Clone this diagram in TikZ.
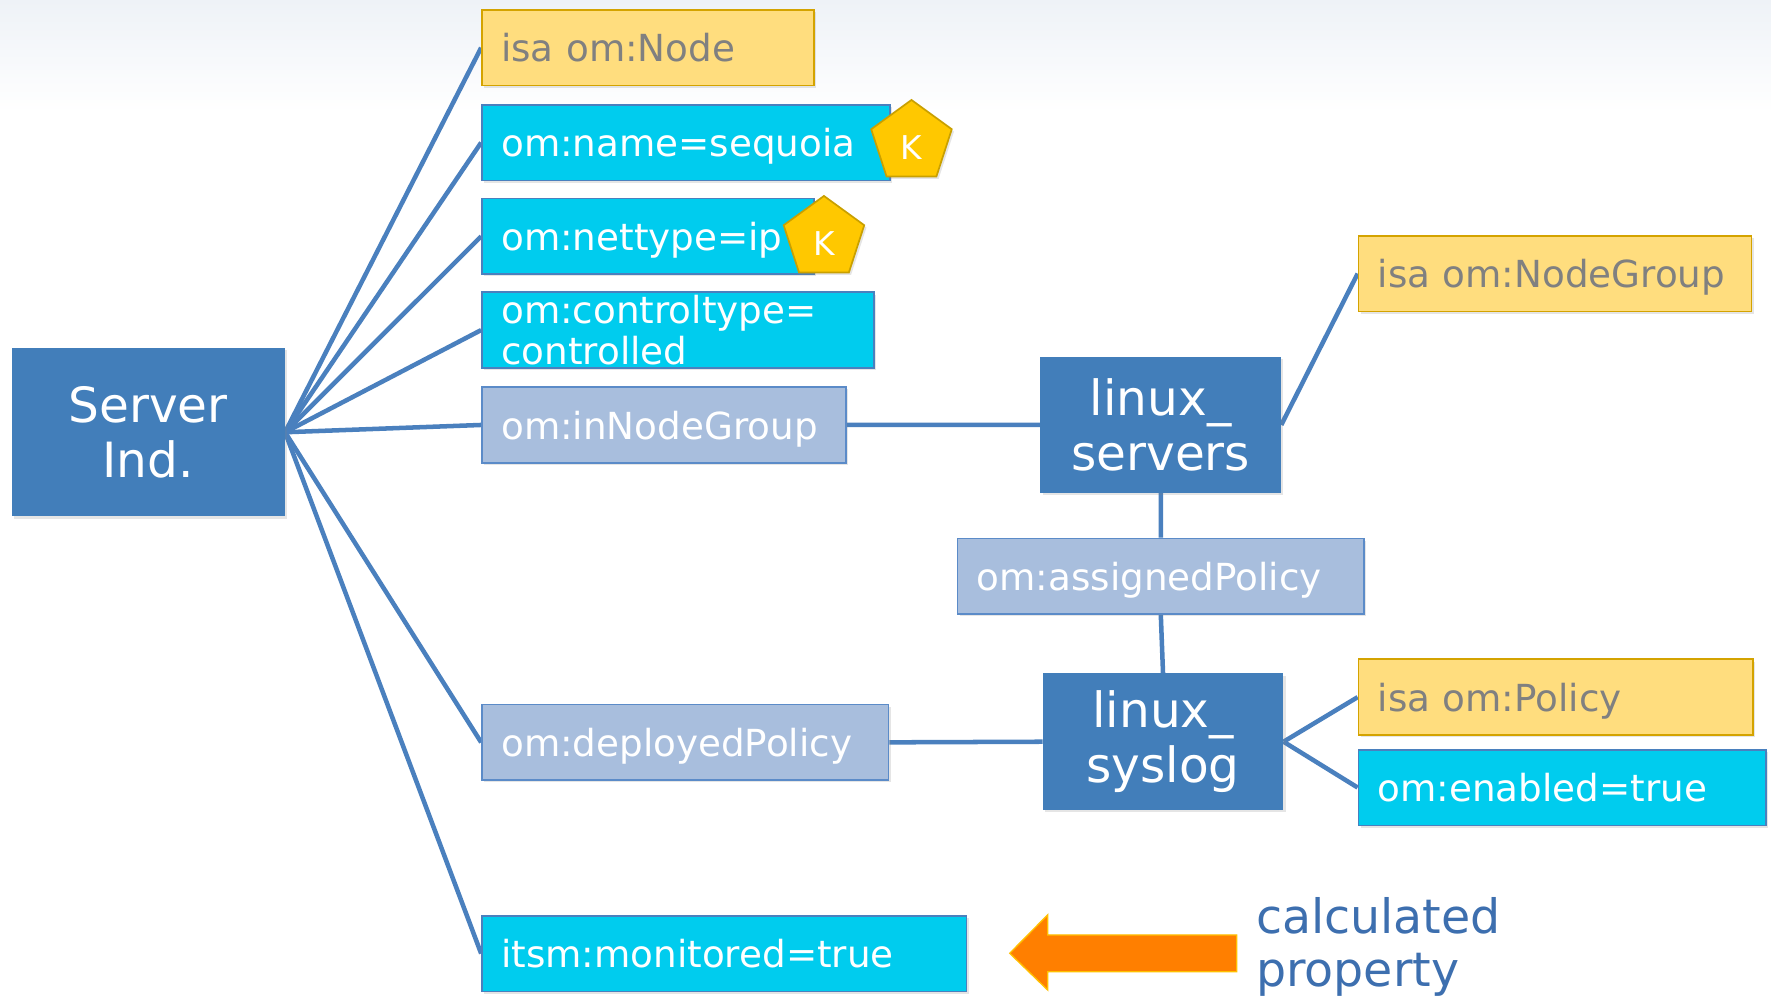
\documentclass[tikz,border=0pt]{standalone}
\usepackage{fontspec}
\setmainfont{DejaVu Sans}
\usetikzlibrary{shapes.geometric,shadows}
\definecolor{srvblue}{HTML}{427EBA}
\definecolor{linkblue}{HTML}{4A80BE}
\definecolor{propcyan}{HTML}{00CCEE}
\definecolor{relgray}{HTML}{A8BEDD}
\definecolor{relborder}{HTML}{5B8BC8}
\definecolor{isafill}{HTML}{FFDD7E}
\definecolor{isaborder}{HTML}{D4A300}
\definecolor{keyfill}{HTML}{FFC800}
\definecolor{keyborder}{HTML}{C9A000}
\definecolor{arrowfill}{HTML}{FF7F00}
\definecolor{arrowborder}{HTML}{FFC000}
\definecolor{calcblue}{HTML}{3D6FAF}
\definecolor{topsky}{HTML}{EEF2F7}
\pgfdeclarelayer{bg}
\pgfdeclarelayer{edges}
\pgfsetlayers{bg,edges,main}

\begin{document}
\begin{tikzpicture}[x=1pt, y=-1pt,
    box/.style = {anchor=north west, inner xsep=17pt, inner ysep=0pt, minimum height=67pt,
                  align=left, font=\fontsize{33}{36}\selectfont, line width=1.5pt,
                  text height=25pt, text depth=0pt,
                  drop shadow={opacity=0.2, shadow xshift=2pt, shadow yshift=-2pt}},
    isa/.style = {box, draw=isaborder, fill=isafill, text=black!50},
    prop/.style = {box, draw=linkblue, fill=propcyan, text=white},
    rel/.style = {box, draw=relborder, fill=relgray, text=white},
    ind/.style = {anchor=north west, fill=srvblue, text=white, align=center, inner sep=0pt,
                  font=\fontsize{43}{49}\selectfont,
                  drop shadow={opacity=0.2, shadow xshift=2pt, shadow yshift=-2pt}},
    key/.style = {regular polygon, regular polygon sides=5, minimum size=75pt, inner sep=0pt,
                  draw=keyborder, fill=keyfill, line width=1.5pt, text=white,
                  text height=30pt, text depth=0pt, font=\fontsize{29}{29}\selectfont,
                  drop shadow={opacity=0.2, shadow xshift=2pt, shadow yshift=-2pt}},
    link/.style = {linkblue, line width=4pt}]
    \useasboundingbox (0,0) rectangle (1568,885.4);
    \begin{pgfonlayer}{bg}
        \fill[white] (0,0) rectangle (1568,885.4);
        \shade[top color=topsky, bottom color=white] (0,0) rectangle (1568,100);
    \end{pgfonlayer}
    % server individual and its properties
    \node[ind, minimum width=242pt, minimum height=149pt] (srv) at (10,308) {Server\\Ind.};
    \node[isa, text width=260pt] (isanode) at (426,8) {isa om:Node};
    \node[prop, text width=327pt] (name) at (426,92) {om:name=sequoia};
    \node[prop, text width=260pt] (nettype) at (426,175) {om:nettype=ip};
    \node[prop, text width=313pt, text depth=36pt] (ctrl) at (426,258) {om:controltype=\\controlled};
    \node[rel, text width=288pt] (ingroup) at (426,342) {om:inNodeGroup};
    \node[rel, text width=326pt] (deployed) at (426,623) {om:deployedPolicy};
    \node[prop, text width=395pt] (monitored) at (426,810) {itsm:monitored=true};
    \node[key] (k1) at (807,126) {K};
    \node[key] (k2) at (729.5,211) {K};
    % node group and policy
    \node[ind, minimum width=213pt, minimum height=120pt] (lsrv) at (921,316) {linux\_\\servers};
    \node[isa, text width=314pt] (isagroup) at (1202,208) {isa om:NodeGroup};
    \node[rel, text width=326pt] (assigned) at (847,476) {om:assignedPolicy};
    \node[ind, minimum width=213pt, minimum height=121pt] (lsys) at (923,596) {linux\_\\syslog};
    \node[isa, text width=315pt] (isapolicy) at (1202,583) {isa om:Policy};
    \node[prop, text width=327pt] (enabled) at (1202,663) {om:enabled=true};
    \begin{pgfonlayer}{edges}
        \foreach \p in {isanode, name, nettype, ctrl, ingroup, deployed, monitored}
            \draw[link] (srv.east) -- (\p.west);
        \draw[link] (ingroup.east) -- (lsrv.west);
        \draw[link] (lsrv.east) -- (isagroup.west);
        \draw[link] (lsrv.south) -- (assigned.north);
        \draw[link] (assigned.south) -- (lsys.north);
        \draw[link] (deployed.east) -- (lsys.west);
        \draw[link] (lsys.east) -- (isapolicy.west);
        \draw[link] (lsys.east) -- (enabled.west);
    \end{pgfonlayer}
    % legend
    \draw[fill=arrowfill, draw=arrowborder, line width=1.2pt, line join=miter]
        (894,844) -- (927.6,810) -- (927.6,827.8) -- (1095,827.8) -- (1095,860.3)
        -- (927.6,860.3) -- (927.6,876.5) -- cycle;
    \node[anchor=north west, align=left, inner sep=0pt, text=calcblue,
          font=\fontsize{42}{47}\selectfont] (calc) at (1112,794) {calculated\\property};
\end{tikzpicture}
\end{document}
